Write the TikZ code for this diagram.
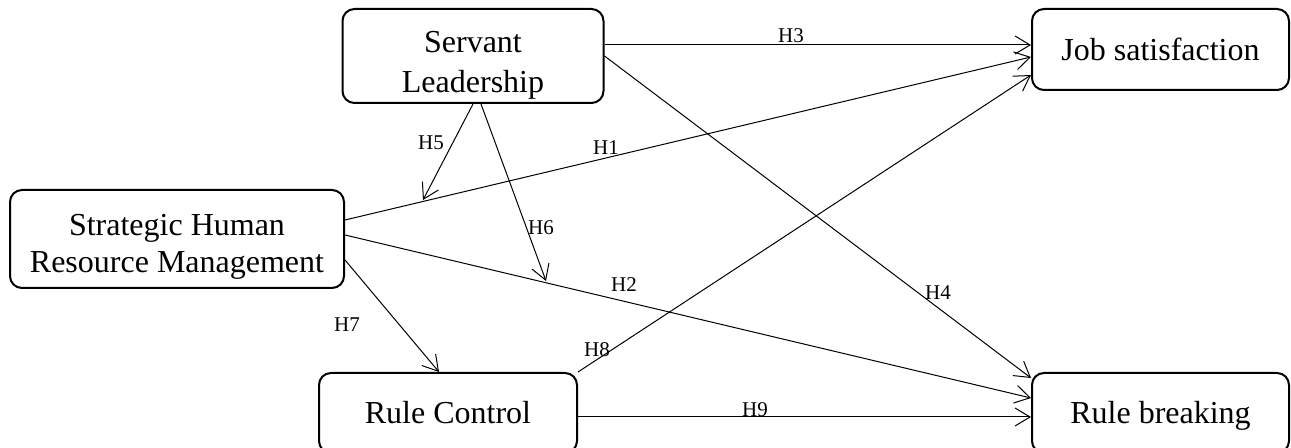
\documentclass[tikz,border=0pt]{standalone}
\usepackage{fontspec}
\setmainfont{Liberation Serif}
\usetikzlibrary{arrows.meta}

\begin{document}
\begin{tikzpicture}[x=0.5pt, y=-0.5pt,
    box/.style={draw, line width=1pt, rounded corners=6pt, align=center, inner sep=0pt, font=\fontsize{16}{18.5}\selectfont},
    hyp/.style={inner sep=0pt, font=\fontsize{10.5}{12}\selectfont},
    link/.style={->, line width=0.5pt},
    >={Straight Barb[length=7.5pt, width=9pt]}]
    \useasboundingbox (0,0) rectangle (1291,448);
    \node [box, minimum width=130.5pt, minimum height=47pt, text height=40.4pt, font=\fontsize{16}{20}\selectfont] (sl) at (473,56) {Servant\\Leadership};
    \node [box, minimum width=167pt, minimum height=49pt, text height=37.4pt] (shrm) at (177,239) {Strategic Human\\Resource Management};
    \node [box, minimum width=128.5pt, minimum height=40.5pt] (jobsat) at (1160.5,49.5) {Job satisfaction};
    \node [box, minimum width=129pt, minimum height=40pt] (rc) at (448,413) {Rule Control};
    \node [box, minimum width=128.5pt, minimum height=40pt, text height=13.9pt] (rb) at (1160.5,413) {Rule breaking};
    \coordinate (h5end) at (423,200);
    \coordinate (h6end) at (546,281);
    \draw [link] ([yshift=5.5pt]sl.east) -- ([yshift=2.25pt]jobsat.west);
    \draw [link] ([yshift=9.5pt]shrm.east) -- ([yshift=-3.75pt]jobsat.west);
    \draw [link] (rc.north east) -- ([yshift=-12.75pt]jobsat.west);
    \draw [link] (sl.east) -- ([yshift=17.5pt]rb.west);
    \draw [link] ([yshift=2pt]shrm.east) -- ([yshift=7.5pt]rb.west);
    \draw [link] ([yshift=-2pt]rc.east) -- ([yshift=-2pt]rb.west);
    \draw [link] ([yshift=-10.5pt]shrm.east) -- ([xshift=-4.5pt]rc.north);
    \draw [link] (sl.south) -- (h5end);
    \draw [link] ([xshift=4pt]sl.south) -- (h6end);
    \node [hyp] (h1) at (606,148) {H1};
    \node [hyp] (h2) at (624,285) {H2};
    \node [hyp] (h3) at (791,36) {H3};
    \node [hyp] (h4) at (938,293) {H4};
    \node [hyp] (h5) at (431,143) {H5};
    \node [hyp] (h6) at (541,228) {H6};
    \node [hyp] (h7) at (347,325) {H7};
    \node [hyp] (h8) at (597,350) {H8};
    \node [hyp] (h9) at (755,410) {H9};
\end{tikzpicture}
\end{document}
